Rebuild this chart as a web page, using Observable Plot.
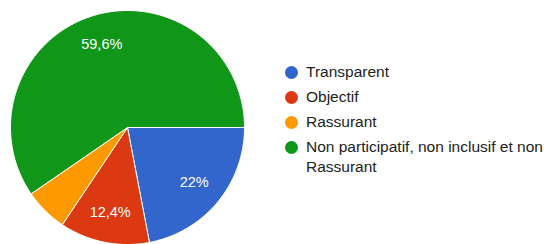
<!DOCTYPE html>
<html>
<head>
<meta charset="utf-8">
<script src="https://cdn.jsdelivr.net/npm/d3@7"></script>
<script src="https://cdn.jsdelivr.net/npm/@observablehq/plot@0.6"></script>
<style>
  html, body { margin: 0; padding: 0; background: #fff; overflow: hidden; }
  #wrap { position: relative; width: 544px; height: 244px; overflow: hidden; }
  #legend { position: absolute; left: 285px; top: 62px; width: 268px;
    font-family: "Liberation Sans", Arial, sans-serif; font-size: 15.5px; color: #222; }
  .item { display: flex; align-items: flex-start; line-height: 20px; margin-bottom: 5px; }
  .sw { width: 13px; height: 13px; border-radius: 50%; flex: none; margin-top: 3.5px; margin-right: 8px; }
  .txt { width: 245px; }
</style>
</head>
<body>
<div id="wrap"><div id="chart"></div><div id="legend"></div></div>
<script>
const categories = ["Transparent", "Objectif", "Rassurant", "Non participatif, non inclusif et non Rassurant"];
const values = [22, 12.4, 6, 59.6];
const sliceLabels = ["22%", "12,4%", "", "59,6%"];
const colors = ["#3366cc", "#dc3912", "#ff9900", "#109618"];

const arcs = d3.pie().sort(null).startAngle(Math.PI / 2).endAngle(Math.PI / 2 + 2 * Math.PI)
  .value((d, i) => values[i])(categories);

const poly = [];
arcs.forEach((a, i) => {
  const cat = categories[i];
  poly.push({cat, x: 0, y: 0});
  const n = Math.max(2, Math.ceil((a.endAngle - a.startAngle) / (Math.PI / 180)));
  for (let k = 0; k <= n; k++) {
    const t = a.startAngle + (a.endAngle - a.startAngle) * k / n;
    poly.push({cat, x: Math.sin(t), y: Math.cos(t)});
  }
  poly.push({cat, x: 0, y: 0});
});

const labelPts = arcs.map((a, i) => {
  const m = (a.startAngle + a.endAngle) / 2;
  return {label: sliceLabels[i], x: 0.74 * Math.sin(m), y: 0.74 * Math.cos(m)};
}).filter(d => d.label);

const chart = Plot.plot({
  width: 544,
  height: 244,
  margin: 0,
  x: {domain: [-1, 1], range: [10, 244], axis: null},
  y: {domain: [-1, 1], range: [244, 10], axis: null},
  color: {domain: categories, range: colors},
  style: {background: "#fff"},
  marks: [
    Plot.line(poly, {x: "x", y: "y", z: "cat", fill: "cat", stroke: "#fff", strokeWidth: 1, curve: "linear"}),
    Plot.text(labelPts, {x: "x", y: "y", text: "label", fill: "#fff",
      fontSize: 14.5, fontFamily: "Liberation Sans, Arial, sans-serif"})
  ]
});
document.getElementById("chart").appendChild(chart);

const legend = d3.select("#legend");
categories.forEach((c, i) => {
  const it = legend.append("div").attr("class", "item");
  it.append("div").attr("class", "sw").style("background", colors[i]);
  it.append("div").attr("class", "txt").text(c);
});
</script>
</body>
</html>
